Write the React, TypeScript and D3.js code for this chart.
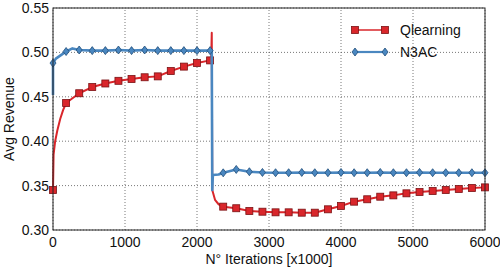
import React from "react";
import * as d3 from "d3";

// x positions of the plotted markers (iterations x1000)
const markerX = [
  0, 182, 364, 545, 727, 909, 1091, 1273, 1455, 1636, 1818, 2000, 2182,
  2364, 2545, 2727, 2909, 3091, 3273, 3455, 3636, 3818, 4000, 4182, 4364,
  4545, 4727, 4909, 5091, 5273, 5455, 5636, 5818, 6000,
];

const qMarkerY = [
  0.345, 0.443, 0.454, 0.461, 0.465, 0.468, 0.470, 0.472, 0.473, 0.479, 0.484, 0.488, 0.491,
  0.3263, 0.3245, 0.3214, 0.3206, 0.3199, 0.3199, 0.3195, 0.3195, 0.3233, 0.327, 0.3319, 0.3346,
  0.3375, 0.339, 0.3413, 0.3428, 0.3439, 0.345, 0.3462, 0.3473, 0.348,
];

const nMarkerY = [
  0.488, 0.501, 0.5027, 0.502, 0.502, 0.5027, 0.502, 0.5027, 0.502, 0.502, 0.502, 0.502, 0.502,
  0.3644, 0.3682, 0.3656, 0.3648, 0.3645, 0.3645, 0.3648, 0.3645, 0.3645, 0.3648, 0.3645, 0.3645,
  0.3648, 0.3645, 0.3645, 0.3648, 0.3645, 0.3645, 0.3645, 0.3645, 0.3645,
];

// extra line points between markers (start-up and the switch near 2200)
const qExtra: [number, number][] = [
  [8, 0.385], [30, 0.4], [60, 0.412], [100, 0.425], [140, 0.435],
  [2198, 0.495], [2205, 0.522], [2212, 0.345], [2250, 0.334], [2300, 0.329],
];
const nExtra: [number, number][] = [
  [-1, 0.452], [40, 0.493], [110, 0.497], [270, 0.5045],
  [2205, 0.502], [2212, 0.345], [2220, 0.362], [2300, 0.3625],
];

const xTicks = [0, 1000, 2000, 3000, 4000, 5000, 6000];
const yTicks = [0.3, 0.35, 0.4, 0.45, 0.5, 0.55];

const W = 500;
const H = 268;
const m = { left: 53, right: 15, top: 8, bottom: 38 };

const RED = "#d9262b";
const BLUE = "#4a87c0";

export default function App() {
  const x = d3.scaleLinear().domain([0, 6000]).range([m.left, W - m.right]);
  const y = d3.scaleLinear().domain([0.3, 0.55]).range([H - m.bottom, m.top]);

  const merge = (mY: number[], extra: [number, number][]) => {
    const pts: [number, number][] = markerX.map((v, i) => [v, mY[i]]);
    extra.forEach((p) => pts.push(p));
    pts.sort((a, b) => a[0] - b[0]);
    // keep the -1 start point ahead of the 0 marker for N3AC
    return pts.map(([a, b]) => [Math.max(a, 0), b] as [number, number]);
  };

  const line = d3.line<[number, number]>().x((d) => x(d[0])).y((d) => y(d[1]));
  const qPts = merge(qMarkerY, qExtra);
  const nPts = merge(nMarkerY, nExtra);

  const font = "Liberation Sans, Arial, Helvetica, sans-serif";
  const [x0, x1] = x.range();
  const [yb, yt] = y.range();

  const square = (cx: number, cy: number, key: string | number) => (
    <rect key={key} x={cx - 3.5} y={cy - 3.5} width={7} height={7}
      fill={RED} stroke="#7a1214" strokeWidth={0.8} />
  );
  const diamond = (cx: number, cy: number, key: string | number) => (
    <path key={key} d={`M${cx},${cy - 4} L${cx + 3},${cy} L${cx},${cy + 4} L${cx - 3},${cy} Z`}
      fill={BLUE} stroke="#1f4c78" strokeWidth={0.8} />
  );

  return (
    <svg width={W} height={H} style={{ position: "fixed", left: 0, top: 0, background: "#fff" }}
      fontFamily={font}>
      {/* grid */}
      {xTicks.map((t) => (
        <line key={"gx" + t} x1={x(t)} x2={x(t)} y1={yb} y2={yt}
          stroke="#555" strokeWidth={0.8} strokeDasharray="1,2" />
      ))}
      {yTicks.map((t) => (
        <line key={"gy" + t} x1={x0} x2={x1} y1={y(t)} y2={y(t)}
          stroke="#555" strokeWidth={0.8} strokeDasharray="1,2" />
      ))}

      {/* Qlearning */}
      <path d={line(qPts) || ""} fill="none" stroke={RED} strokeWidth={2} strokeLinejoin="round" />
      {markerX.map((v, i) => square(x(v), y(qMarkerY[i]), "q" + i))}

      {/* N3AC */}
      <path d={line(nPts) || ""} fill="none" stroke={BLUE} strokeWidth={2.6} strokeLinejoin="round" />
      {markerX.map((v, i) => diamond(x(v), y(nMarkerY[i]), "n" + i))}

      {/* frame */}
      <rect x={x0} y={yt} width={x1 - x0} height={yb - yt} fill="none" stroke="#222" strokeWidth={1} />

      {/* ticks */}
      {xTicks.map((t) => (
        <text key={"tx" + t} x={x(t)} y={yb + 17} textAnchor="middle" fontSize={14} fill="#111">{t}</text>
      ))}
      {yTicks.map((t) => (
        <text key={"ty" + t} x={x0 - 4} y={y(t) + 5} textAnchor="end" fontSize={14} fill="#111">
          {d3.format(".2f")(t)}
        </text>
      ))}

      {/* axis titles */}
      <text x={(x0 + x1) / 2} y={H - 4} textAnchor="middle" fontSize={14} fill="#111">
        N° Iterations [x1000]
      </text>
      <text transform={`translate(14,${(yb + yt) / 2}) rotate(-90)`} textAnchor="middle" fontSize={14} fill="#111">
        Avg Revenue
      </text>

      {/* legend */}
      <line x1={355} x2={385} y1={30} y2={30} stroke={RED} strokeWidth={1.5} />
      {square(355, 30, "lq1")}
      {square(385, 30, "lq2")}
      <text x={400} y={35} fontSize={14} fill="#111">Qlearning</text>
      <line x1={355} x2={385} y1={52} y2={52} stroke={BLUE} strokeWidth={2.2} />
      {diamond(355, 52, "ln1")}
      {diamond(385, 52, "ln2")}
      <text x={400} y={57} fontSize={14} fill="#111">N3AC</text>
    </svg>
  );
}
